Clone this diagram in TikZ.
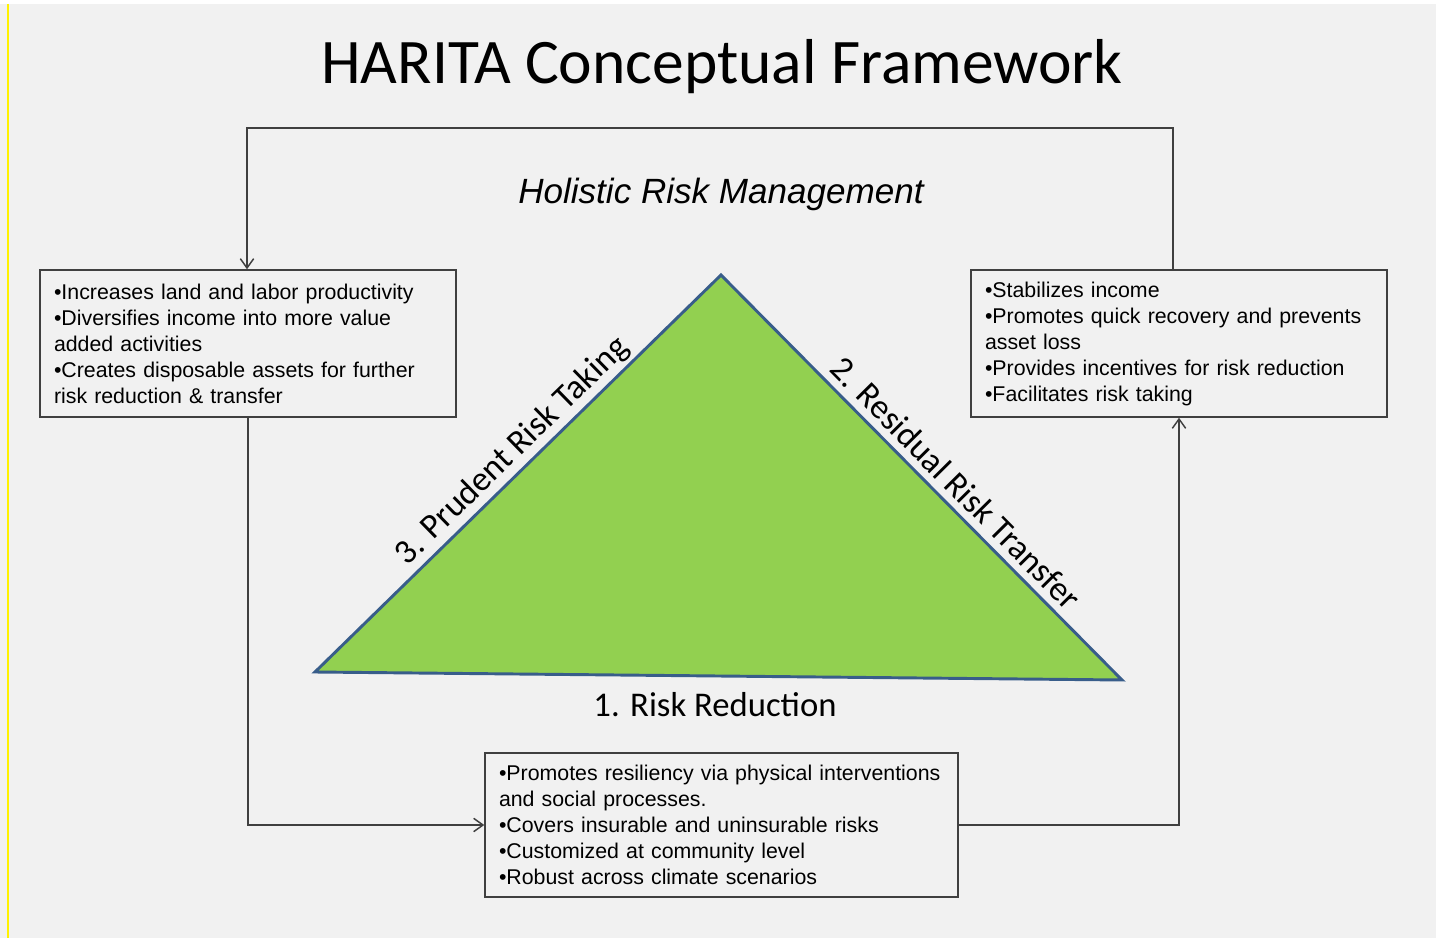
\documentclass[tikz,border=0pt]{standalone}
\usepackage{fontspec}
\setmainfont{Liberation Sans}
\newfontfamily\calibri{Carlito}
\usetikzlibrary{arrows.meta, positioning, calc}
\definecolor{bggray}{HTML}{F1F1F1}
\definecolor{linegray}{HTML}{404040}
\definecolor{trigreen}{HTML}{92D050}
\definecolor{triblue}{HTML}{385D8A}
\tikzstyle{arrow} = [line width=1.1pt, ->, >={Straight Barb[length=7pt, width=10pt]}, linegray]
\tikzstyle{infobox} = [rectangle, draw=linegray, line width=1.1pt, align=left,
                       font=\fontsize{16}{19.5}\selectfont, inner xsep=10.5pt, inner ysep=0pt]
\tikzstyle{sidelabel} = [font=\calibri\fontsize{26}{31}\selectfont, sloped]

\begin{document}
\begin{tikzpicture}[x=0.75pt, y=-0.75pt]
    % Page
    \useasboundingbox (0,0) rectangle (1436,938);
    \fill[white] (0,0) rectangle (1436,4);
    \fill[bggray] (0,4) rectangle (1436,938);
    \draw[yellow, line width=1.5pt] (8,4) -- (8,938);

    % Title
    \node[font=\calibri\fontsize{47.6}{56}\selectfont] (title) at (722,67) {HARITA Conceptual Framework};
    \node[font=\itshape\fontsize{26.3}{31}\selectfont] (holistic) at (721,194) {Holistic Risk Management};

    % Triangle
    \coordinate (apex) at (721,275);
    \coordinate (bl) at (315,672);
    \coordinate (br) at (1122,680);
    \draw[fill=trigreen, draw=triblue, line width=2.2pt] (bl) -- (apex) -- (br) -- cycle;
    \path (bl) -- (apex) node[sidelabel, pos=0.52, above] (l3) {3. Prudent Risk Taking};
    \path (apex) -- (br) node[sidelabel, pos=0.55, above=3pt] (l2) {2. Residual Risk Transfer};
    \node[font=\calibri\fontsize{26}{31}\selectfont] (l1) at (715,705) {1. Risk Reduction};

    % Boxes
    \node[infobox, text width=291pt, minimum height=110.25pt] (b1) at (248,343.5)
        {•Increases land and labor productivity\\•Diversifies income into more value\\added activities\\•Creates disposable assets for further\\risk reduction \& transfer};
    \node[infobox, text width=291pt, minimum height=110.25pt] (b2) at (1179,343.5)
        {•Stabilizes income\\•Promotes quick recovery and prevents\\asset loss\\•Provides incentives for risk reduction\\•Facilitates risk taking};
    \node[infobox, text width=333.75pt, minimum height=108pt] (b3) at (721.5,825)
        {•Promotes resiliency via physical interventions\\and social processes.\\•Covers insurable and uninsurable risks\\•Customized at community level\\•Robust across climate scenarios};

    % Arrows
    \coordinate (topL) at (247,128);
    \coordinate (topR) at (1173,128);
    \draw[arrow] (b2.north -| topR) -- (topR) -- (topL) -- (b1.north -| topL);
    \draw[arrow] (b1.south) |- (b3.west);
    \draw[arrow] (b3.east) -| (b2.south);
\end{tikzpicture}
\end{document}
